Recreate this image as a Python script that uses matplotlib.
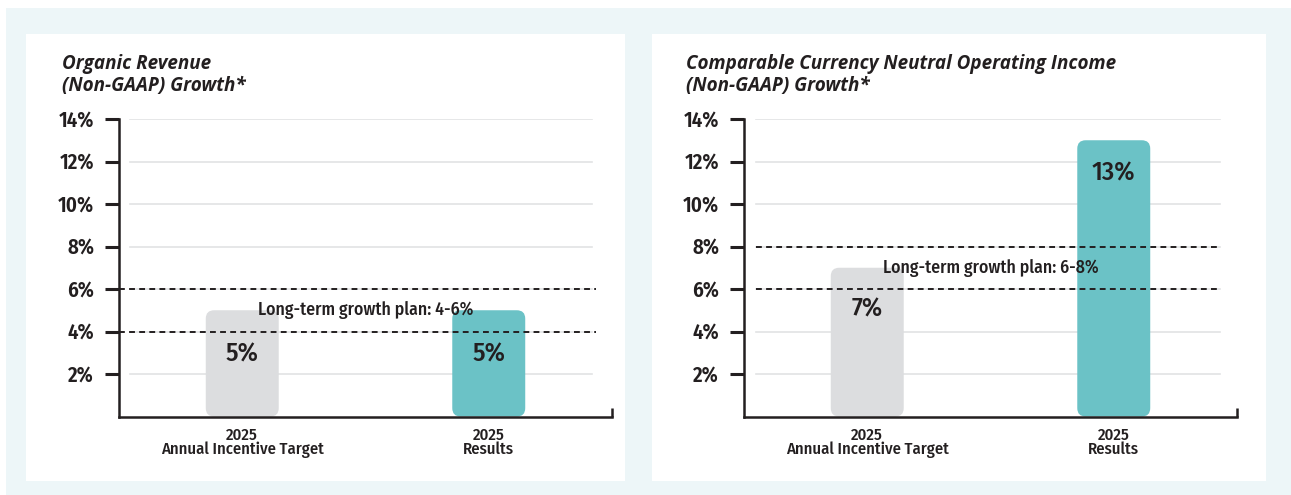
import matplotlib.pyplot as plt
from matplotlib.patches import FancyBboxPatch, Rectangle

# chart data
categories = ["2025\nAnnual Incentive Target", "2025\nResults"]
revenue_values = [5, 5]
income_values = [7, 13]
revenue_plan = [4, 6]
income_plan = [6, 8]
titles = ["Organic Revenue\n(Non-GAAP) Growth*",
          "Comparable Currency Neutral Operating Income\n(Non-GAAP) Growth*"]
y_ticks = [2, 4, 6, 8, 10, 12, 14]

# colours
BG = "#EDF6F8"
INK = "#231F20"
GREY_BAR = "#DCDDDF"
TEAL_BAR = "#6BC2C6"
GRID = "#E2E3E4"

W, H = 1291, 495
narrow = ["Fira Sans Condensed", "DejaVu Sans"]
title_font = ["Open Sans", "DejaVu Sans"]

fig = plt.figure(figsize=(W / 100, H / 100), dpi=100)
fig.patch.set_facecolor("white")


def px_rect(x0, y0, x1, y1):
    # figure fraction rectangle from pixel corners (top-left origin)
    return [x0 / W, 1 - y1 / H, (x1 - x0) / W, (y1 - y0) / H]


# backgrounds
fig.patches.append(Rectangle((6 / W, 0), 1, 1 - 8 / H, transform=fig.transFigure,
                             facecolor=BG, edgecolor="none", zorder=-3))
for x0, x1 in [(26, 625), (652, 1266)]:
    r = px_rect(x0, 34, x1, 481)
    fig.patches.append(Rectangle((r[0], r[1]), r[2], r[3], transform=fig.transFigure,
                                 facecolor="white", edgecolor="none", zorder=-2))


def draw_panel(ax_left, title_x, values, plan, title, label_offsets, grid_x, dash_x):
    ax = fig.add_axes(px_rect(ax_left, 119, ax_left + 493, 416.5))
    ax.set_facecolor("none")
    ax.set_xlim(-0.5, 1.5)
    ax.set_ylim(0, 14)

    # grid lines
    for t in y_ticks:
        ax.plot(grid_x, [t, t], color=GRID, lw=1.2, zorder=1)

    # rounded bars
    aspect = (493 / 2.0) / (297.5 / 14.0)
    colors = [GREY_BAR, TEAL_BAR]
    for i, v in enumerate(values):
        bar = FancyBboxPatch((i - 0.148, 0), 0.296, v,
                             boxstyle="round,pad=0,rounding_size=0.034",
                             mutation_aspect=aspect,
                             facecolor=colors[i], edgecolor="none", zorder=2)
        ax.add_patch(bar)
        ax.annotate(f"{v}%", xy=(i, v), xytext=(0, label_offsets[i]),
                    textcoords="offset points", ha="center", va="center",
                    fontsize=19, fontweight="medium", family=narrow, color=INK, zorder=5)

    # long-term plan band
    for p in plan:
        ax.plot(dash_x, [p, p], color=INK, lw=1.4, ls=(0, (3, 2.2)), zorder=3)
    ax.text(0.5, sum(plan) / 2, f"Long-term growth plan: {plan[0]}-{plan[1]}%",
            ha="center", va="center", fontsize=12.8, fontweight="medium",
            family=narrow, color=INK, zorder=6)

    # axes styling
    for s in ["top", "right"]:
        ax.spines[s].set_visible(False)
    for s in ["left", "bottom"]:
        ax.spines[s].set_linewidth(1.8)
        ax.spines[s].set_color(INK)
    ax.plot([1, 1], [0, 0.028], transform=ax.transAxes, color=INK, lw=1.8,
            clip_on=False, solid_capstyle="butt")
    ax.set_yticks(y_ticks)
    ax.set_yticklabels([f"{t}%" for t in y_ticks], family=narrow, fontweight="semibold",
                       fontsize=15, color=INK)
    ax.tick_params(axis="y", length=10, width=2.2, color=INK, pad=8)
    ax.set_xticks(range(len(categories)))
    ax.set_xticklabels(categories, family=narrow, fontsize=12, fontweight="medium",
                       color=INK, linespacing=0.82)
    ax.tick_params(axis="x", length=0, pad=8)

    fig.text(title_x / W, 1 - 54 / H, title, ha="left", va="top", fontsize=13.6,
             family=title_font, style="italic", fontweight="bold", color=INK,
             linespacing=1.1)


draw_panel(119, 62, revenue_values, revenue_plan, titles[0], [-32, -32],
           [-0.455, 1.42], [-0.5, 1.435])
draw_panel(744, 686, income_values, income_plan, titles[1], [-30, -24],
           [-0.45, 1.43], [-0.45, 1.43])

fig.savefig("out.png", dpi=100, facecolor=fig.get_facecolor())
